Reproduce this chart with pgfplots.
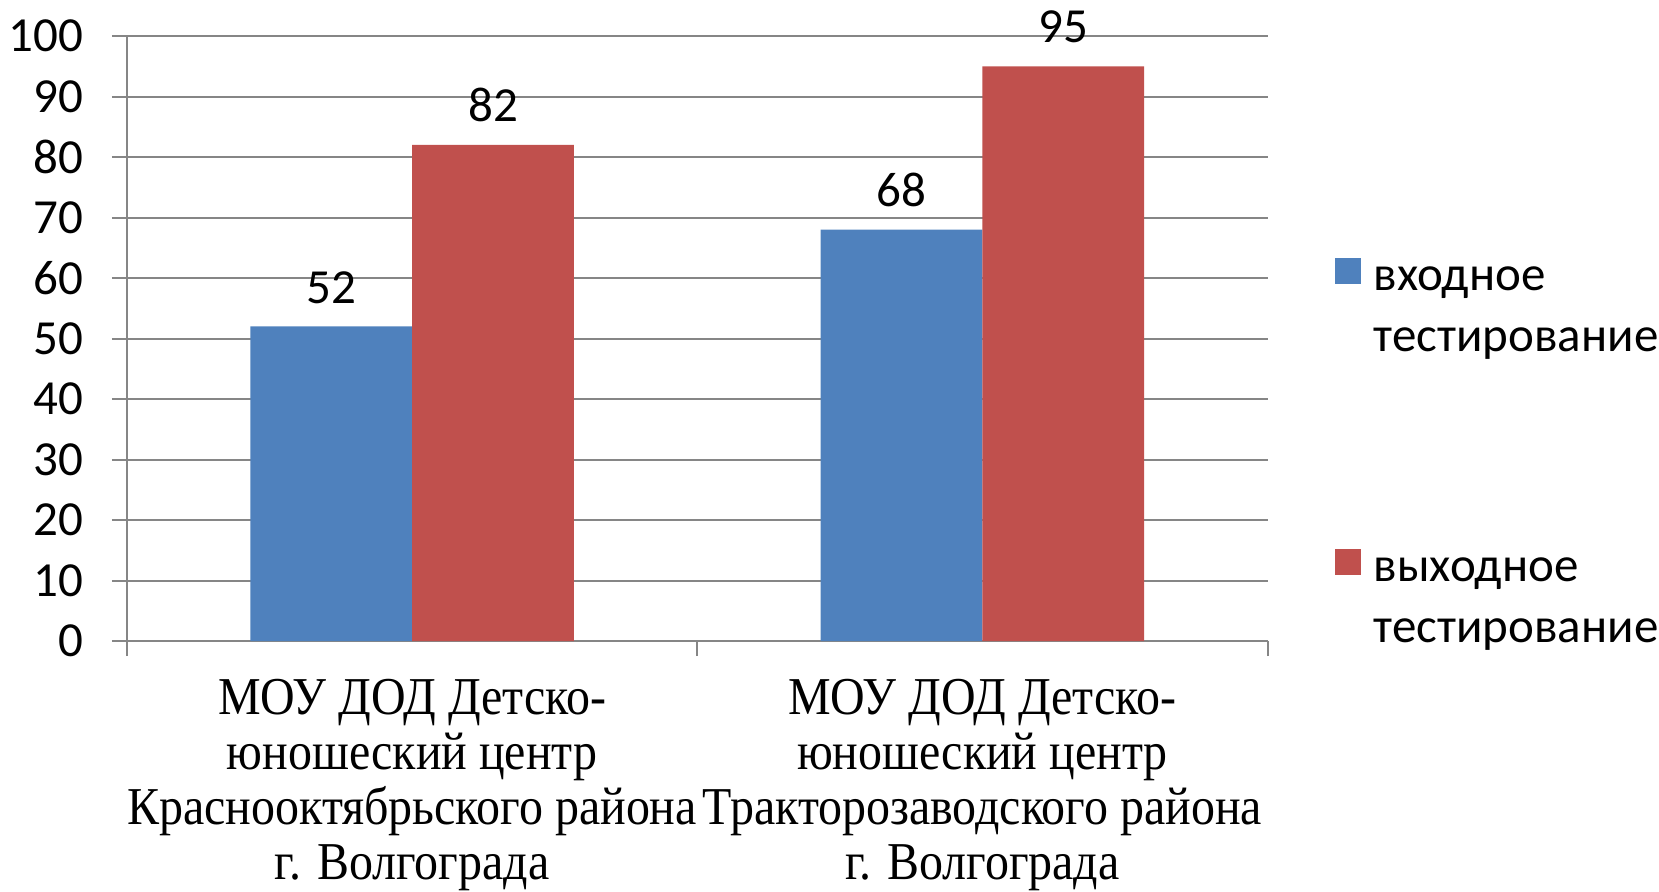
\documentclass[border=0pt]{standalone}
\usepackage{pgfplots}
\pgfplotsset{compat=1.18}
\usepackage{fontspec}
\setmainfont{Carlito}
\newfontfamily\tnr[FakeStretch=0.9]{Liberation Serif}
\definecolor{cblue}{HTML}{4F81BD}
\definecolor{cred}{HTML}{C0504D}
\definecolor{cgrid}{HTML}{868686}
\begin{document}
\begin{tikzpicture}
\begin{axis}[
  scale only axis, width=456.2pt, height=242pt,
  font=\fontsize{19.6}{21.6}\selectfont,
  /pgf/number format/assume math mode=true,
  ybar=0pt, bar width=64.7pt,
  xmin=-0.5, xmax=1.5, ymin=0, ymax=100,
  xtick={-0.5,0.5,1.5},
  x tick label as interval,
  xticklabels={{МОУ ДОД Детско-\\юношеский центр\\Краснооктябрьского района\\г. Волгограда},{МОУ ДОД Детско-\\юношеский центр\\Тракторозаводского района\\г. Волгограда}},
  x tick label style={font=\tnr\fontsize{21.3}{22.1}\selectfont, align=center, anchor=north, inner sep=0pt, yshift=-8.9pt},
  ytick={0,10,...,100},
  y tick label style={anchor=east, inner sep=0pt, xshift=-11.4pt},
  axis x line*=bottom, axis y line*=left,
  axis line style={cgrid, line width=0.8pt, -},
  ymajorgrids, grid style={cgrid, line width=0.8pt},
  tick align=outside,
  major tick length=6pt,
  tick style={cgrid, line width=0.8pt},
  nodes near coords,
  every node near coord/.append style={anchor=south, inner sep=0pt, yshift=9pt, black},
  legend style={at={(1,1)}, anchor=north west, xshift=27pt, yshift=-85.3pt, draw=none, fill=none, inner sep=0pt, outer sep=0pt, row sep=98.6pt, column sep=5pt, nodes={inner sep=0pt}, font=\fontsize{19.6}{23.3}\selectfont},
  legend cell align=left,
  legend image code/.code={\fill[#1] (0pt,-5pt) rectangle (10.5pt,5.5pt);},
]
\addplot[fill=cblue, draw=none] coordinates {(0,52) (1,68)};
\addplot[fill=cred, draw=none] coordinates {(0,82) (1,95)};
\legend{{\begin{tabular}[t]{@{}l@{}}входное\\[1.3pt]тестирование\end{tabular}},{\begin{tabular}[t]{@{}l@{}}выходное\\[1.3pt]тестирование\end{tabular}}}
\end{axis}
\pgfresetboundingbox
\path[use as bounding box] ([shift={(-50.8pt,-100.3pt)}]current axis.south west) rectangle ++(663.6pt,356.7pt);
\end{tikzpicture}
\end{document}
